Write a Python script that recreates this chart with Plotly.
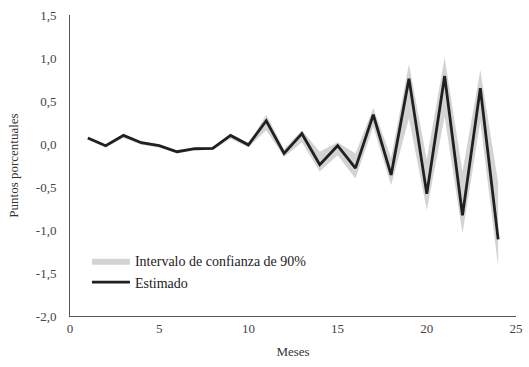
import plotly.graph_objects as go

meses = list(range(1, 25))
estimado = [0.07, -0.02, 0.10, 0.015, -0.02, -0.09, -0.055, -0.05, 0.10, -0.01,
            0.27, -0.11, 0.12, -0.24, -0.02, -0.28, 0.34, -0.36, 0.76, -0.58,
            0.79, -0.83, 0.65, -1.11]
ic_sup = [0.08, -0.01, 0.11, 0.025, -0.01, -0.075, -0.04, -0.035, 0.12, 0.00,
          0.34, -0.06, 0.16, -0.09, 0.02, -0.11, 0.42, -0.16, 0.93, -0.18,
          1.01, -0.32, 0.86, -0.45]
ic_inf = [0.05, -0.04, 0.07, -0.01, -0.04, -0.11, -0.07, -0.07, 0.06, -0.04,
          0.16, -0.15, 0.02, -0.32, -0.13, -0.40, 0.20, -0.48, 0.30, -0.77,
          0.32, -1.04, 0.26, -1.43]

y_ticks = [1.5, 1.0, 0.5, 0.0, -0.5, -1.0, -1.5, -2.0]
y_labels = ["1,5", "1,0", "0,5", "0,0", "-0,5", "-1,0", "-1,5", "-2,0"]
x_ticks = [0, 5, 10, 15, 20, 25]

font_fam = "Liberation Serif, DejaVu Serif, serif"
gris_banda = "#d2d3d5"
negro = "#231f20"

fig = go.Figure()
fig.add_trace(go.Scatter(x=meses, y=ic_sup, mode="lines", line=dict(width=0, color=gris_banda),
                         showlegend=False, hoverinfo="skip"))
fig.add_trace(go.Scatter(x=meses, y=ic_inf, mode="lines", line=dict(width=0, color=gris_banda),
                         fill="tonexty", fillcolor=gris_banda,
                         name="Intervalo de confianza de 90%"))
fig.add_trace(go.Scatter(x=meses, y=estimado, mode="lines", line=dict(width=2.8, color=negro),
                         name="Estimado"))

fig.update_layout(
    width=529, height=367,
    margin=dict(l=70, r=6, t=15, b=51),
    paper_bgcolor="white", plot_bgcolor="white",
    font=dict(family=font_fam, size=13, color="#444"),
    showlegend=True,
    legend=dict(x=0.038, y=0.235, xanchor="left", yanchor="top", traceorder="normal",
                bgcolor="rgba(0,0,0,0)", font=dict(size=14, color="#222"),
                itemwidth=38, tracegroupgap=0),
    xaxis=dict(range=[0, 25], tickvals=x_ticks, showgrid=False, zeroline=False,
               showline=True, linecolor="#555", linewidth=1, ticks="",
               ticklabeloverflow="allow",
               tickfont=dict(size=13, color="#444"),
               title=dict(text="Meses", font=dict(size=13, color="#333"), standoff=12)),
    yaxis=dict(range=[-2.0, 1.5], tickvals=y_ticks, ticktext=y_labels, showgrid=False,
               zeroline=False, showline=True, linecolor="#555", linewidth=1, ticks="",
               tickfont=dict(size=13, color="#444"), ticklabelstandoff=10,
               title=dict(text="Puntos porcentuales", font=dict(size=13, color="#333"), standoff=14)),
)

fig.write_html("out.html")
